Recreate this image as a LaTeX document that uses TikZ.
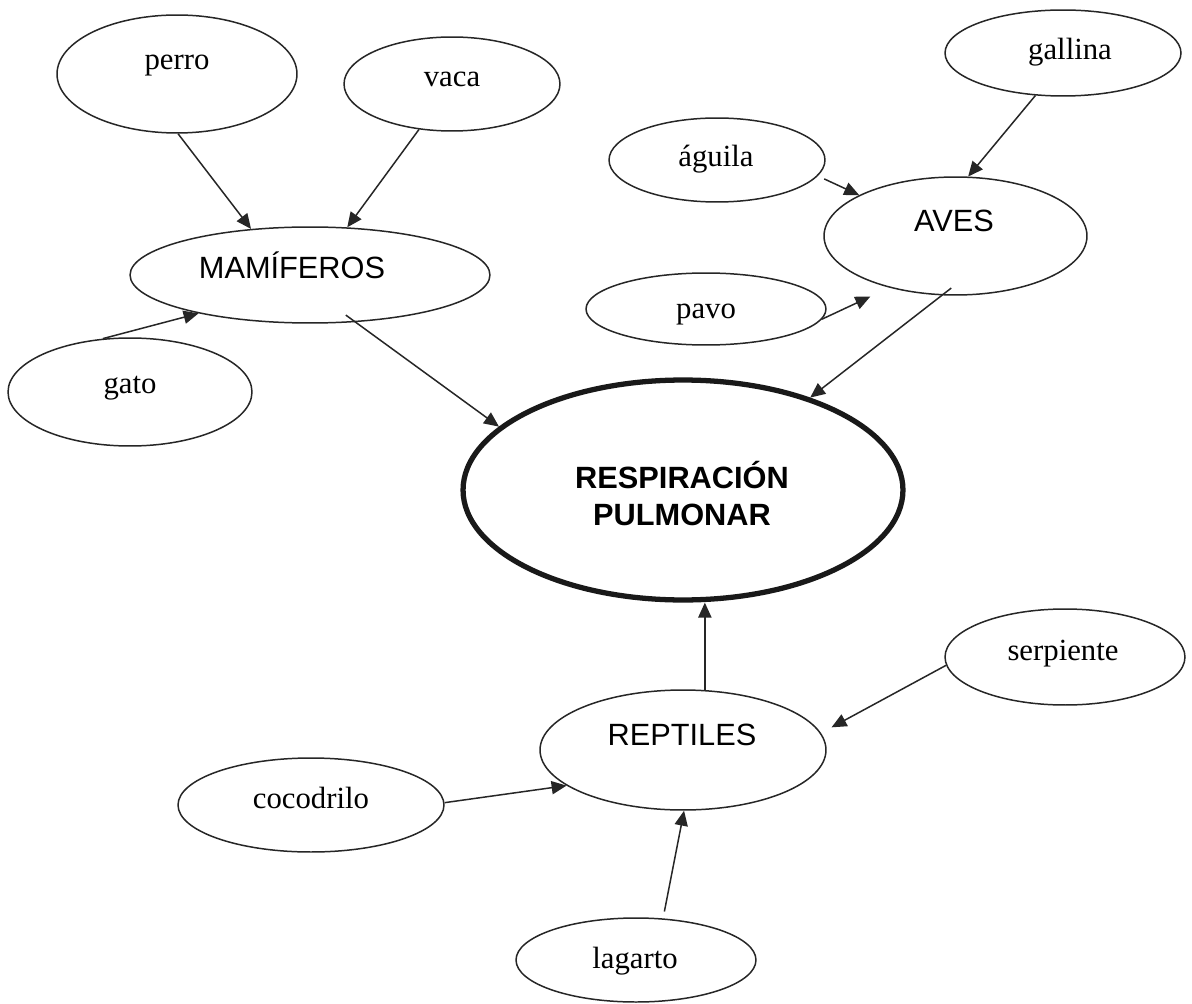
\documentclass[tikz,border=0pt]{standalone}
\usepackage{fontspec}
\setmainfont{Liberation Serif}
\setsansfont{Liberation Sans}
\usetikzlibrary{shapes.geometric,arrows.meta}
\begin{document}
\begin{tikzpicture}[x=0.02cm,y=-0.02cm,
  bubble/.style={ellipse,draw=black!85,line width=0.85pt,inner sep=0pt},
  corebubble/.style={ellipse,draw=black!90,line width=3pt,inner sep=0pt},
  serifword/.style={font=\fontsize{17.5}{21}\selectfont,anchor=base,inner sep=0pt},
  sansword/.style={font=\sffamily\fontsize{17.5}{21}\selectfont,anchor=base,inner sep=0pt},
  boldword/.style={font=\sffamily\bfseries\fontsize{17.5}{21}\selectfont,anchor=base,inner sep=0pt},
  link/.style={draw=black!85,line width=0.85pt,-{Triangle[length=8.5pt,width=7.5pt]}}]

% page
\fill[white] (0,0) rectangle (1192,1003);
\useasboundingbox (0,0) rectangle (1192,1003);

% ellipses
\node[bubble,minimum width=4.80cm,minimum height=2.36cm] (perro)   at (177,74)  {};
\node[bubble,minimum width=4.32cm,minimum height=1.88cm] (vaca)    at (452,84)  {};
\node[bubble,minimum width=7.20cm,minimum height=1.92cm] (mam)     at (310,275) {};
\node[bubble,minimum width=4.88cm,minimum height=2.16cm] (gato)    at (130,392) {};
\node[bubble,minimum width=4.72cm,minimum height=1.72cm] (gallina) at (1063,53) {};
\node[bubble,minimum width=4.32cm,minimum height=1.68cm] (aguila)  at (717,160) {};
\node[bubble,minimum width=5.26cm,minimum height=2.36cm] (aves)    at (955.5,236) {};
\node[bubble,minimum width=4.80cm,minimum height=1.44cm] (pavo)    at (706,309) {};
\node[corebubble,minimum width=8.80cm,minimum height=4.40cm] (resp) at (683,490) {};
\node[bubble,minimum width=4.80cm,minimum height=1.92cm] (serp)    at (1065,657) {};
\node[bubble,minimum width=5.72cm,minimum height=2.40cm] (rept)    at (683,750) {};
\node[bubble,minimum width=5.32cm,minimum height=1.88cm] (coco)    at (311,805) {};
\node[bubble,minimum width=4.80cm,minimum height=1.68cm] (lagarto) at (636,960) {};

% labels
\node[serifword] (perro-t)   at (177,70)  {perro};
\node[serifword] (vaca-t)    at (452,87)  {vaca};
\node[sansword]  (mam-t)     at (292,278) {MAMÍFEROS};
\node[serifword] (gato-t)    at (130,393) {gato};
\node[serifword] (gallina-t) at (1070,60) {gallina};
\node[serifword] (aguila-t)  at (716,167) {águila};
\node[sansword]  (aves-t)    at (954,232) {AVES};
\node[serifword] (pavo-t)    at (706,318) {pavo};
\node[boldword]  (resp-t1)   at (682,488) {RESPIRACIÓN};
\node[boldword]  (resp-t2)   at (682,525) {PULMONAR};
\node[serifword] (serp-t)    at (1063,660) {serpiente};
\node[sansword]  (rept-t)    at (682,745) {REPTILES};
\node[serifword] (coco-t)    at (311,808) {cocodrilo};
\node[serifword] (lagarto-t) at (635,968) {lagarto};

% mammals
\draw[link] (perro.-89) -- (mam.142);
\draw[link] (vaca.234) -- (mam.52);
\draw[link] (gato.117) -- (mam.199);
\draw[link,shorten <=-0.24cm] (mam.-46) -- (resp.161);

% birds
\draw[link] (gallina.237) -- (aves.78);
\draw[link,shorten <=0.14cm] (aguila.-9) -- (aves.157);
\draw[link,shorten >=0.42cm] (pavo.-5) -- (aves.218);
\draw[link,shorten <=-0.24cm] (aves.257) -- (resp.36);

% reptiles
\draw[link] (rept.70) -- (rept.70 |- resp.south);
\draw[link,shorten >=0.24cm] (serp.184) -- (rept.7);
\draw[link] (coco.1) -- (rept.197);
\draw[link,shorten <=0.14cm] (lagarto.57) -- (rept.-89);

\end{tikzpicture}
\end{document}
